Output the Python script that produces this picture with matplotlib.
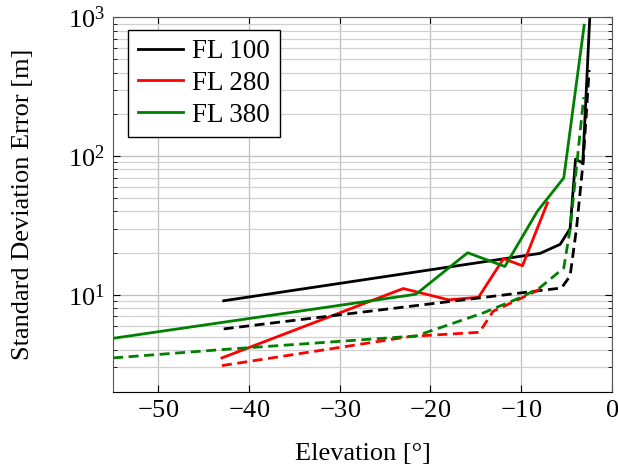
import numpy as np
import matplotlib.pyplot as plt
from matplotlib.ticker import LogLocator, NullFormatter

plt.rcParams['font.family'] = 'serif'
plt.rcParams['font.serif'] = ['Liberation Serif', 'DejaVu Serif']
plt.rcParams['mathtext.fontset'] = 'cm'
plt.rcParams['axes.formatter.use_mathtext'] = True

# FL 100
fl100_x = [-42.8, -7.9, -5.7, -4.6, -4.0, -3.2, -2.4]
fl100_y = [9.06, 19.9, 23.1, 30.0, 95.0, 89.0, 1100.0]
fl100_dx = [-42.8, -5.55, -4.6, -3.9, -3.16, -2.5]
fl100_dy = [5.68, 11.2, 13.7, 29.9, 91.0, 417.0]

# FL 280
fl280_x = [-43.0, -23.0, -18.0, -14.7, -11.95, -9.85, -7.1]
fl280_y = [3.51, 11.1, 9.2, 9.6, 18.2, 16.2, 46.0]
fl280_dx = [-43.0, -22.1, -14.6, -13.1, -10.0, -7.9]
fl280_dy = [3.09, 5.02, 5.37, 7.6, 9.45, 11.0]

# FL 380
fl380_x = [-55.0, -21.6, -15.9, -11.8, -8.2, -5.3, -3.05]
fl380_y = [4.86, 10.1, 20.1, 16.0, 40.1, 69.6, 876.0]
fl380_dx = [-55.0, -43.0, -21.6, -14.2, -10.0, -7.9, -5.3, -4.6, -3.1]
fl380_dy = [3.51, 4.03, 5.05, 7.4, 9.6, 11.3, 15.6, 29.7, 265.0]

fig = plt.figure(figsize=(6.18, 4.67), dpi=100)
ax = fig.add_axes([0.183, 0.161, 0.807, 0.802])

lw = 2.0
dash = (0, (3.6, 2.0))
ax.plot(fl100_x, fl100_y, color='black', lw=lw, label='FL 100')
ax.plot(fl280_x, fl280_y, color='red', lw=lw, label='FL 280')
ax.plot(fl380_x, fl380_y, color='green', lw=lw, label='FL 380')
ax.plot(fl100_dx, fl100_dy, color='black', lw=lw, linestyle=dash)
ax.plot(fl280_dx, fl280_dy, color='red', lw=lw, linestyle=dash)
ax.plot(fl380_dx, fl380_dy, color='green', lw=lw, linestyle=dash)

ax.set_yscale('log')
ax.set_xlim(-55, 0)
ax.set_ylim(2, 1000)
ax.set_xticks([-50, -40, -30, -20, -10, 0])
ax.yaxis.set_major_locator(LogLocator(base=10, numticks=10))
ax.yaxis.set_minor_locator(LogLocator(base=10, subs=np.arange(2, 10), numticks=20))
ax.yaxis.set_minor_formatter(NullFormatter())

ax.grid(True, which='major', color='#bfbfbf', lw=0.9)
ax.grid(True, which='minor', axis='y', color='#d0d0d0', lw=0.9)
ax.set_axisbelow(True)
ax.tick_params(which='both', direction='in', top=True, right=True, labelsize=19)
ax.tick_params(which='major', length=5, pad=6)
ax.tick_params(which='minor', length=3)
for s in ax.spines.values():
    s.set_color('#555555')
ax.spines['bottom'].set_color('black')

ax.set_xlabel('Elevation [°]', fontsize=19, labelpad=15)
ax.set_ylabel('Standard Deviation Error [m]', fontsize=19, labelpad=24)

leg = ax.legend(loc='upper left', fontsize=19.5, fancybox=False, framealpha=1,
                edgecolor='black', handlelength=1.67, handletextpad=0.35,
                borderpad=0.35, labelspacing=0.25, borderaxespad=0,
                bbox_to_anchor=(0.03, 0.967))
leg.get_frame().set_linewidth(1.0)

fig.savefig('out.png', dpi=100)
